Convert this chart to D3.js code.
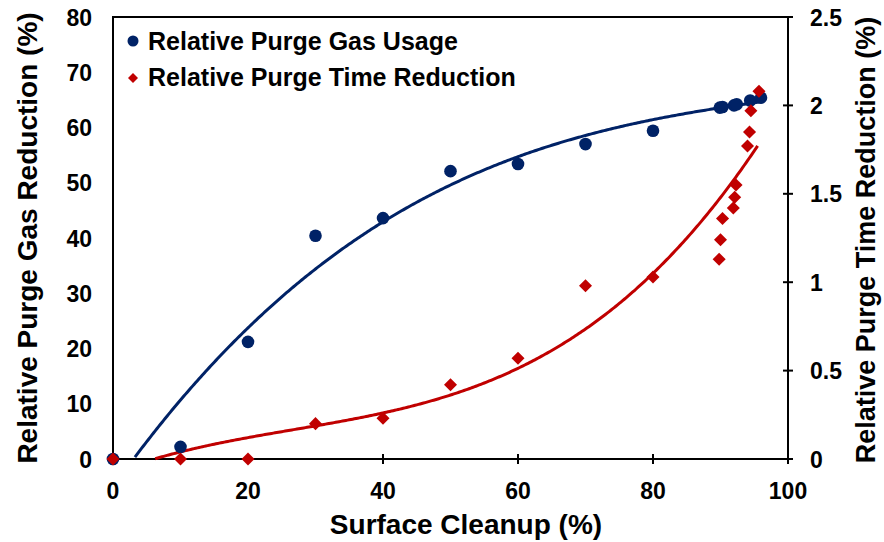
<!DOCTYPE html>
<html>
<head>
<meta charset="utf-8">
<script src="https://cdn.jsdelivr.net/npm/d3@7"></script>
<style>
  body { margin: 0; background: #fff; }
  text { font-family: "Liberation Sans", Arial, sans-serif; font-weight: bold; fill: #000; }
</style>
</head>
<body>
<svg id="chart" width="884" height="542"></svg>
<script>
// surface cleanup (%) vs relative purge gas reduction (%)
const gasX = [0, 10, 20, 30, 40, 50, 60, 70, 80, 89.9, 90.3, 92, 92.4, 94.4, 96];
const gasY = [0, 2.2, 21.2, 40.4, 43.6, 52.1, 53.4, 57, 59.4, 63.6, 63.7, 64, 64.2, 64.9, 65.4];

// surface cleanup (%) vs relative purge time reduction (%)
const timeX = [0, 10, 20, 30, 40, 50, 60, 70, 80, 89.8, 90, 90.3, 91.9, 92.1, 92.3, 94, 94.3, 94.5, 95.7];
const timeY = [0, 0, 0, 0.2, 0.23, 0.42, 0.57, 0.98, 1.03, 1.13, 1.24, 1.36, 1.42, 1.48, 1.55, 1.77, 1.85, 1.97, 2.08];

const xTicks = [0, 20, 40, 60, 80, 100];
const yLeftTicks = [0, 10, 20, 30, 40, 50, 60, 70, 80];
const yRightTicks = [0, 0.5, 1, 1.5, 2, 2.5];

const legendLabels = ['Relative Purge Gas Usage', 'Relative Purge Time Reduction'];

const BLUE = '#002266';
const RED = '#C00000';

const svg = d3.select('#chart');

const x = d3.scaleLinear().domain([0, 100]).range([113, 788]);
const yL = d3.scaleLinear().domain([0, 80]).range([459, 17]);
const yR = d3.scaleLinear().domain([0, 2.5]).range([459, 17]);

// least squares polynomial, like an excel trendline
function polyfit (xs, ys, order) {
  const n = order + 1;
  let A = [];
  for (let i = 0; i < n; i++) {
    A.push(new Array(n + 1).fill(0));
    for (let j = 0; j < n; j++) {
      A[i][j] = d3.sum(xs, v => Math.pow(v, i + j));
    }
    A[i][n] = d3.sum(xs, (v, k) => Math.pow(v, i) * ys[k]);
  }
  for (let c = 0; c < n; c++) {
    let p = c;
    for (let r = c + 1; r < n; r++) if (Math.abs(A[r][c]) > Math.abs(A[p][c])) p = r;
    [A[c], A[p]] = [A[p], A[c]];
    for (let r = 0; r < n; r++) {
      if (r === c) continue;
      const f = A[r][c] / A[c][c];
      for (let k = c; k <= n; k++) A[r][k] -= f * A[c][k];
    }
  }
  return A.map((row, i) => row[n] / row[i]);
}

function polyval (coef, v) {
  return coef.reduce((s, c, i) => s + c * Math.pow(v, i), 0);
}

function trend (xs, ys, order, yScale, color) {
  const coef = polyfit(xs, ys, order);
  const xmax = d3.max(xs);
  // sample the fitted curve and keep the part above zero
  const pts = d3.range(0, xmax + 0.001, 0.25).map(v => [v, polyval(coef, v)]).filter(p => p[1] >= 0);
  svg.append('path')
    .attr('d', d3.line().x(p => x(p[0])).y(p => yScale(p[1]))(pts))
    .attr('fill', 'none')
    .attr('stroke', color)
    .attr('stroke-width', 3);
}

// plot box
svg.append('rect')
  .attr('x', 113).attr('y', 17)
  .attr('width', 675).attr('height', 442)
  .attr('fill', 'none').attr('stroke', '#000').attr('stroke-width', 2);

// x ticks cross the axis
svg.append('g').selectAll('line').data(xTicks.slice(1)).join('line')
  .attr('x1', d => x(d)).attr('x2', d => x(d))
  .attr('y1', 454).attr('y2', 464)
  .attr('stroke', '#000').attr('stroke-width', 2);

svg.append('g').selectAll('line').data(yRightTicks).join('line')
  .attr('x1', 783).attr('x2', 793)
  .attr('y1', d => yR(d)).attr('y2', d => yR(d))
  .attr('stroke', '#000').attr('stroke-width', 2);

svg.append('g').selectAll('text').data(xTicks).join('text')
  .attr('x', d => x(d)).attr('y', 499)
  .attr('text-anchor', 'middle')
  .style('font-size', '23px')
  .text(d => d);

svg.append('g').selectAll('text').data(yLeftTicks).join('text')
  .attr('x', 92).attr('y', d => yL(d) + 8.5)
  .attr('text-anchor', 'end')
  .style('font-size', '23px')
  .text(d => d);

svg.append('g').selectAll('text').data(yRightTicks).join('text')
  .attr('x', 810).attr('y', d => yR(d) + 8.5)
  .attr('text-anchor', 'start')
  .style('font-size', '23px')
  .text(d => d);

// axis titles
svg.append('text')
  .attr('x', 466).attr('y', 534)
  .attr('text-anchor', 'middle')
  .style('font-size', '28px')
  .text('Surface Cleanup (%)');

svg.append('text')
  .attr('transform', 'translate(37,238) rotate(-90)')
  .attr('text-anchor', 'middle')
  .style('font-size', '28px')
  .text('Relative Purge Gas Reduction (%)');

svg.append('text')
  .attr('transform', 'translate(875,240) rotate(-90)')
  .attr('text-anchor', 'middle')
  .style('font-size', '27px')
  .text('Relative Purge Time Reduction (%)');

// trendlines
trend(gasX, gasY, 3, yL, BLUE);
trend(timeX, timeY, 3, yR, RED);

// markers
svg.append('g').selectAll('circle').data(gasX).join('circle')
  .attr('cx', d => x(d)).attr('cy', (d, i) => yL(gasY[i]))
  .attr('r', 6.3).attr('fill', BLUE);

const diamond = d3.symbol().type(d3.symbolSquare).size(85);
svg.append('g').selectAll('path').data(timeX).join('path')
  .attr('d', diamond)
  .attr('transform', (d, i) => 'translate(' + x(d) + ',' + yR(timeY[i]) + ') rotate(45)')
  .attr('fill', RED);

// legend
const legend = svg.append('g');
legend.append('circle').attr('cx', 133).attr('cy', 41).attr('r', 5.5).attr('fill', BLUE);
legend.append('path')
  .attr('d', d3.symbol().type(d3.symbolSquare).size(50))
  .attr('transform', 'translate(133,78) rotate(45)')
  .attr('fill', RED);
legend.selectAll('text').data(legendLabels).join('text')
  .attr('x', 148).attr('y', (d, i) => 50 + i * 36)
  .style('font-size', '25px')
  .text(d => d);
</script>
</body>
</html>
